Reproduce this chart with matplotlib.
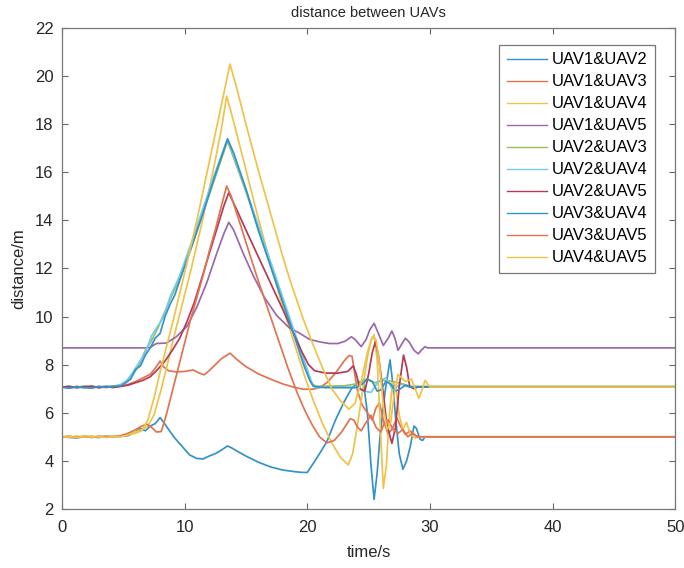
import matplotlib
matplotlib.use('Agg')
import matplotlib.pyplot as plt

plt.rcParams['font.family'] = ['Liberation Sans', 'DejaVu Sans']

# 两两无人机之间的距离 (time/s, distance/m)
t_12 = [0, 0.6, 1.2, 1.8, 2.4, 3.0, 3.6, 4.2, 4.8, 5.4, 6.0, 6.4, 6.8, 7.2, 7.6, 8.0, 8.3, 8.7, 9.2, 9.8,
        10.4, 11.0, 11.5, 12.0, 12.5, 13.0, 13.5, 13.8, 14.3, 15.0, 16.0, 17.0, 18.0, 19.0, 19.6, 20.0,
        20.5, 21.0, 21.6, 22.3, 23.0, 23.6, 24.2, 24.6, 24.9, 25.2, 25.45, 25.7, 25.95, 26.35, 26.75,
        27.0, 27.2, 27.5, 27.8, 28.1, 28.4, 28.7, 28.9, 29.2, 29.4, 29.6, 30, 50]
d_12 = [5.0, 4.98, 4.95, 5.02, 5.0, 4.97, 5.03, 5.0, 5.02, 5.05, 5.2, 5.35, 5.25, 5.45, 5.55, 5.8, 5.6, 5.3,
        4.95, 4.6, 4.25, 4.1, 4.08, 4.2, 4.3, 4.45, 4.62, 4.55, 4.4, 4.2, 3.95, 3.75, 3.62, 3.55, 3.52, 3.52,
        3.9, 4.3, 4.8, 5.7, 6.45, 7.0, 7.3, 7.2, 6.0, 3.8, 2.4, 3.5, 5.1, 6.9, 8.2,
        7.1, 5.8, 4.3, 3.65, 4.0, 4.6, 5.45, 5.35, 4.9, 4.85, 5.0, 5.0, 5.0]

t_13 = [0, 0.6, 1.2, 1.8, 2.4, 3.0, 3.6, 4.2, 4.8, 5.4, 6.0, 6.6, 7.2, 7.6, 8.0, 8.3, 8.7, 9.3, 10.0, 10.7,
        11.2, 11.6, 12.0, 12.5, 13.0, 13.7, 14.3, 15.0, 16.0, 17.0, 18.0, 19.0, 19.7, 20.5, 21.0, 21.6,
        22.3, 23.0, 23.4, 23.65, 23.85, 24.1, 24.5, 24.9, 25.3, 25.6, 25.9, 26.2, 26.6, 27.0, 27.3, 27.6,
        28.0, 28.4, 28.8, 29.2, 50]
d_13 = [7.07, 7.04, 7.1, 7.05, 7.09, 7.06, 7.1, 7.08, 7.1, 7.18, 7.3, 7.45, 7.6, 7.85, 8.15, 7.9, 7.75, 7.7,
        7.72, 7.78, 7.65, 7.58, 7.75, 8.0, 8.25, 8.48, 8.2, 7.92, 7.62, 7.4, 7.2, 7.05, 6.98, 6.98, 7.05, 7.25,
        7.65, 8.15, 8.38, 8.35, 7.7, 6.9, 6.3, 6.0, 5.7, 6.2, 6.4, 5.7, 5.1, 5.4, 5.8, 5.45,
        5.1, 5.25, 5.05, 5.0, 5.0]

t_14 = [0, 0.6, 1.2, 1.8, 2.4, 3.0, 3.6, 4.2, 4.8, 5.4, 6.0, 6.5, 7.0, 7.5, 8.0, 8.5, 9.0, 9.5, 10.0, 10.5,
        11.0, 11.5, 12.0, 12.5, 13.0, 13.43, 14.0, 15.0, 16.0, 17.0, 18.0, 19.0, 19.8, 20.5, 21.2, 22.0,
        22.7, 23.35, 23.7, 24.1, 24.5, 24.9, 25.2, 25.45, 25.7, 25.95, 26.2, 26.45, 26.7, 26.95, 27.2, 27.5,
        27.8, 28.1, 28.4, 28.8, 29.2, 50]
d_14 = [5.0, 4.97, 5.03, 5.0, 5.04, 4.98, 5.02, 4.99, 5.04, 5.1, 5.2, 5.3, 5.45, 5.9, 6.8, 7.8, 8.9, 9.9, 10.9,
        11.9, 13.0, 14.1, 15.3, 16.5, 17.8, 19.17, 18.1, 16.1, 14.1, 12.2, 10.4, 8.8, 7.5, 6.5, 5.6, 4.75,
        4.15, 3.83, 4.3, 5.5, 6.9, 8.3, 9.0, 9.25, 8.2, 5.5, 2.86, 3.8, 5.9, 7.3, 7.1, 5.9,
        5.3, 5.6, 5.1, 4.95, 5.0, 5.0]

t_15 = [0, 6.8, 7.2, 7.7, 8.5, 9.3, 10.2, 11.0, 11.8, 12.6, 13.2, 13.6, 14.0, 14.8, 15.6, 16.5, 17.5, 18.5,
        19.4, 20.2, 21.0, 21.8, 22.5, 23.1, 23.6, 23.9, 24.4, 24.8, 25.1, 25.45, 25.8, 26.2, 26.6, 26.9,
        27.15, 27.4, 27.7, 28.0, 28.3, 28.7, 29.05, 29.3, 29.6, 29.8, 50]
d_15 = [8.7, 8.7, 8.72, 8.88, 8.9, 9.15, 9.6, 10.4, 11.4, 12.6, 13.45, 13.92, 13.6, 12.6, 11.7, 10.8, 10.05,
        9.55, 9.3, 9.05, 8.95, 8.88, 8.88, 8.98, 9.16, 9.05, 8.75, 9.05, 9.45, 9.72, 9.3, 8.8, 9.1, 9.4,
        9.1, 8.6, 8.85, 9.1, 8.95, 8.6, 8.45, 8.6, 8.75, 8.7, 8.7]

t_23 = [0, 0.6, 1.2, 1.8, 2.4, 3.0, 3.6, 4.2, 4.8, 5.3, 5.8, 6.3, 6.8, 7.3, 7.8, 8.3, 8.8, 9.6, 10.5, 11.5,
        12.5, 13.5, 14.0, 15.0, 16.0, 17.0, 18.0, 19.0, 19.8, 20.4, 20.7, 23.0, 24.0, 24.8, 25.5, 26.2,
        27.0, 27.8, 28.4, 50]
d_23 = [7.07, 7.1, 7.05, 7.12, 7.06, 7.1, 7.08, 7.12, 7.15, 7.3, 7.6, 8.0, 8.6, 9.0, 9.5, 10.1, 10.7, 11.6,
        12.8, 14.3, 15.8, 17.3, 16.6, 15.2, 13.7, 12.2, 10.7, 9.2, 8.0, 7.2, 7.1, 7.12, 7.2, 7.4, 7.25, 7.35,
        7.3, 7.2, 7.1, 7.1]

t_24 = [0, 0.6, 1.2, 1.8, 2.4, 3.0, 3.6, 4.2, 4.8, 5.3, 5.8, 6.3, 6.8, 7.3, 7.8, 8.3, 8.8, 9.6, 10.5, 11.5,
        12.5, 13.5, 14.0, 15.0, 16.0, 17.0, 18.0, 19.0, 19.8, 20.4, 20.7, 24.0, 24.6, 25.2, 25.8, 26.4,
        27.0, 27.6, 28.2, 50]
d_24 = [7.07, 7.03, 7.09, 7.04, 7.1, 7.05, 7.12, 7.07, 7.18, 7.35, 7.7, 8.1, 8.5, 9.2, 9.6, 10.0, 10.8, 11.7,
        13.0, 14.5, 16.0, 17.4, 16.7, 15.3, 13.8, 12.3, 10.8, 9.3, 8.1, 7.2, 7.05, 7.05, 6.9, 6.85, 7.3, 7.45,
        6.95, 7.2, 7.08, 7.07]

t_25 = [0, 0.6, 1.2, 1.8, 2.4, 3.0, 3.6, 4.2, 4.8, 5.4, 6.0, 6.6, 7.2, 7.8, 8.4, 9.0, 9.6, 10.2, 10.8, 11.4,
        12.0, 12.6, 13.2, 13.6, 14.2, 15.0, 16.0, 17.0, 18.0, 18.8, 19.5, 20.1, 20.6, 21.5, 22.5, 23.3,
        23.75, 24.0, 24.3, 24.7, 25.0, 25.3, 25.55, 25.8, 26.1, 26.5, 26.9, 27.2, 27.5, 27.85, 28.1, 28.35,
        28.7, 29.0, 50]
d_25 = [7.07, 7.1, 7.04, 7.08, 7.11, 7.04, 7.08, 7.05, 7.1, 7.15, 7.25, 7.35, 7.5, 7.8, 8.15, 8.6, 9.1, 9.8,
        10.6, 11.6, 12.6, 13.6, 14.6, 15.15, 14.5, 13.6, 12.5, 11.4, 10.3, 9.4, 8.6, 8.0, 7.75, 7.65, 7.65,
        7.72, 7.95, 7.6, 7.0, 6.9, 7.6, 8.5, 8.95, 8.4, 7.2, 5.5, 4.73, 5.4, 7.1, 8.4, 7.9, 7.1,
        7.0, 7.07, 7.07]

t_34 = [0, 0.6, 1.2, 1.8, 2.4, 3.0, 3.6, 4.2, 4.8, 5.2, 5.6, 6.0, 6.4, 6.8, 7.2, 7.6, 8.0, 8.4, 8.8, 9.2,
        9.6, 10.5, 11.5, 12.5, 13.5, 14.0, 15.0, 16.0, 17.0, 17.4, 18.2, 19.0, 19.7, 20.2, 20.5, 21.5,
        24.0, 24.5, 24.9, 25.3, 25.7, 26.0, 26.4, 26.8, 27.2, 27.6, 28.0, 28.4, 50]
d_34 = [7.07, 7.02, 7.08, 7.05, 7.02, 7.09, 7.05, 7.1, 7.12, 7.25, 7.4, 7.8, 7.95, 8.4, 8.7, 9.1, 9.3, 10.0,
        10.5, 10.9, 11.5, 12.8, 14.3, 15.9, 17.38, 16.8, 15.3, 13.6, 12.1, 11.5, 10.3, 9.1, 8.0, 7.35, 7.1,
        7.05, 7.05, 7.2, 7.4, 7.3, 6.9, 6.95, 7.3, 7.2, 6.9, 7.0, 7.15, 7.07, 7.07]

t_35 = [0, 0.6, 1.2, 1.8, 2.4, 3.0, 3.6, 4.2, 4.8, 5.4, 6.0, 6.4, 6.9, 7.3, 7.7, 8.1, 8.5, 9.0, 9.5, 10.0,
        10.5, 11.0, 11.5, 12.0, 12.5, 13.0, 13.43, 13.8, 14.5, 15.3, 16.0, 16.8, 17.6, 18.4, 19.2, 19.8,
        20.4, 21.0, 21.6, 22.2, 22.8, 23.5, 23.8, 24.1, 24.4, 24.8, 25.2, 25.6, 26.0, 26.3, 26.6, 27.0,
        27.4, 27.8, 28.2, 28.6, 29.0, 50]
d_35 = [5.0, 5.03, 4.98, 5.02, 4.97, 5.03, 5.0, 5.02, 5.05, 5.15, 5.3, 5.42, 5.53, 5.4, 5.2, 5.22, 5.9, 6.9,
        7.9, 8.9, 9.9, 10.8, 11.7, 12.7, 13.6, 14.6, 15.43, 15.0, 13.9, 12.6, 11.5, 10.3, 9.1, 7.9, 6.8, 6.1,
        5.5, 5.0, 4.75, 4.85, 5.2, 5.75, 5.7, 5.4, 5.25, 5.6, 5.9, 5.4, 5.2, 5.6, 5.7, 5.3,
        5.15, 5.3, 5.0, 5.15, 5.0, 5.0]

t_45 = [0, 0.6, 1.2, 1.8, 2.4, 3.0, 3.6, 4.2, 4.8, 5.4, 6.0, 6.5, 7.0, 7.5, 8.0, 8.5, 9.08, 9.9, 10.5, 11.0,
        11.5, 12.0, 12.5, 13.0, 13.7, 14.2, 15.0, 16.0, 17.0, 18.0, 18.6, 19.7, 20.5, 21.3, 22.0, 22.7,
        23.4, 23.9, 24.4, 24.9, 25.3, 25.6, 25.9, 26.2, 26.5, 26.8, 27.1, 27.4, 28.0, 28.5, 28.8, 29.1,
        29.4, 29.6, 29.8, 30, 50]
d_45 = [5.0, 5.02, 4.97, 5.03, 4.99, 5.02, 4.97, 5.03, 5.0, 5.08, 5.15, 5.25, 5.7, 6.6, 7.7, 8.7, 9.86, 11.6,
        12.9, 14.0, 15.2, 16.4, 17.6, 18.8, 20.5, 19.6, 18.0, 16.1, 14.3, 12.5, 11.5, 9.86, 8.8, 7.8, 7.0, 6.5,
        6.15, 6.4, 7.3, 8.5, 9.15, 9.05, 8.0, 6.3, 5.3, 5.6, 6.8, 7.6, 7.3, 7.4, 7.0, 6.6,
        7.0, 7.35, 7.2, 7.07, 7.07]

labels = ['UAV1&UAV2', 'UAV1&UAV3', 'UAV1&UAV4', 'UAV1&UAV5', 'UAV2&UAV3',
          'UAV2&UAV4', 'UAV2&UAV5', 'UAV3&UAV4', 'UAV3&UAV5', 'UAV4&UAV5']
times = [t_12, t_13, t_14, t_15, t_23, t_24, t_25, t_34, t_35, t_45]
dists = [d_12, d_13, d_14, d_15, d_23, d_24, d_25, d_34, d_35, d_45]

# MATLAB 默认配色(稍浅)
colors = ['#3592c8', '#e27350', '#efc24a', '#9a68ab', '#97c05c',
          '#74cbee', '#b63a55', '#3592c8', '#e27350', '#efc24a']

fig = plt.figure(figsize=(6.84, 5.68), dpi=100)
ax = fig.add_axes([0.0906, 0.1039, 0.8965, 0.8468])

for t, d, c, lab in zip(times, dists, colors, labels):
    ax.plot(t, d, color=c, linewidth=1.25, label=lab)

ax.set_xlim(0, 50)
ax.set_ylim(2, 22)
ax.set_xticks(range(0, 51, 10))
ax.set_yticks(range(2, 23, 2))
ax.tick_params(direction='in', top=True, right=True, length=4, width=0.8,
               labelsize=12, colors='#666666', labelcolor='#262626')
ax.tick_params(axis='x', pad=8)
ax.tick_params(axis='y', pad=6)
for s in ax.spines.values():
    s.set_color('#777777')
    s.set_linewidth(0.9)

ax.set_title('distance between UAVs', fontsize=10.5, color='#262626', pad=8)
ax.set_xlabel('time/s', fontsize=12, color='#262626', labelpad=7)
ax.set_ylabel('distance/m', fontsize=12, color='#262626', labelpad=6)

leg = ax.legend(loc='upper right', bbox_to_anchor=(0.967, 0.965), borderaxespad=0,
                fontsize=12, frameon=True, fancybox=False, framealpha=1,
                handlelength=2.4, handletextpad=0.3, labelspacing=0.42,
                borderpad=0.45)
leg.get_frame().set_edgecolor('#777777')
leg.get_frame().set_linewidth(0.9)
for line in leg.get_lines():
    line.set_linewidth(1.0)

fig.savefig('out.png', dpi=100)
